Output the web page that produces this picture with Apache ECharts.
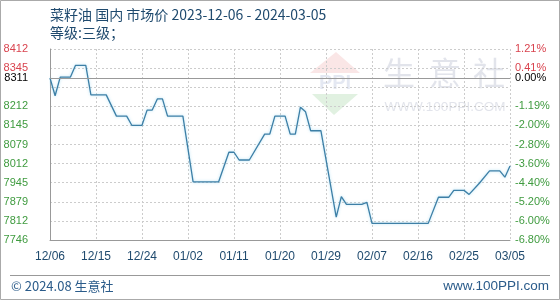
<!DOCTYPE html>
<html><head><meta charset="utf-8">
<script src="https://cdn.jsdelivr.net/npm/echarts@6/dist/echarts.min.js"></script>
<style>html,body{margin:0;padding:0;background:#fff}#c{width:560px;height:300px}</style>
</head><body><div id="c"></div>
<script>
// ---- data ----
const pointDates = ['12/06','12/07','12/08','12/10','12/11','12/13','12/14','12/17','12/19','12/21',
  '12/22','12/24','12/25','12/26','12/27','12/28','12/29','01/01','01/03','01/08',
  '01/10','01/11','01/12','01/14','01/17','01/18','01/19','01/21','01/22','01/23',
  '01/24','01/25','01/26','01/28','01/31','02/01','02/02','02/05','02/06','02/07',
  '02/18','02/20','02/22','02/23','02/25','02/26','02/28','03/01','03/03','03/04','03/05'];
const prices = [8311,8249,8314,8314,8355,8355,8252,8252,8178,8178,
  8146,8146,8199,8199,8238,8238,8178,8178,7949,7949,
  8052,8052,8025,8025,8115,8115,8178,8178,8115,8115,
  8209,8193,8127,8127,7826,7897,7870,7870,7877,7804,
  7804,7895,7895,7919,7919,7905,7944,7987,7987,7965,8004];
const baseValue = 8311;
const yMin = 7746, yMax = 8412;
const gridValues = [7746,7812.6,7879.2,7945.8,8012.4,8079,8145.6,8212.2,8278.8,8345.4,8412];
const labelValues = [7746,7812.6,7879.2,7945.8,8012.4,8079,8145.6,8212.2,8311,8345.4,8412];
const leftLabels = ['7746','7812','7879','7945','8012','8079','8145','8212','8311','8345','8412'];
const rightLabels = ['-6.80%','-6.00%','-5.20%','-4.40%','-3.60%','-2.80%','-2.00%','-1.19%','0.00%','0.41%','1.21%'];
const titleText = '菜籽油 国内 市场价 2023-12-06 - 2024-03-05';
const subText = '等级:三级；';

// ---- category axis (every day) ----
const categories = [];
for (let d = new Date(Date.UTC(2023,11,6)); d <= new Date(Date.UTC(2024,2,5)); d.setUTCDate(d.getUTCDate()+1)) {
  categories.push(String(d.getUTCMonth()+1).padStart(2,'0') + '/' + String(d.getUTCDate()).padStart(2,'0'));
}
const seriesData = pointDates.map((d,i)=>[d, prices[i]]);

function idxOf(v){ return labelValues.findIndex(x=>Math.abs(x-Number(v))<0.01); }
function labelColor(v){
  v = Number(v);
  if (Math.abs(v-baseValue)<0.01) return '#000000';
  return v>baseValue ? '#d9434e' : '#3f9b3f';
}
const FONT = 'Liberation Sans, Arial, sans-serif';
const CJK = '"Noto Sans CJK SC", "Liberation Sans", sans-serif';

const chart = echarts.init(document.getElementById('c'), null, {renderer:'canvas'});
chart.setOption({
  animation:false,
  backgroundColor:'#ffffff',
  grid:{left:50,right:50,top:49,bottom:60,containLabel:false},
  xAxis:{
    type:'category', data:categories, boundaryGap:false,
    axisLine:{show:true,lineStyle:{color:'#999999',width:1}},
    axisTick:{show:false},
    axisLabel:{interval:8,color:'#1f4a6e',fontSize:12,fontFamily:FONT,margin:11},
    splitLine:{show:true,interval:8,lineStyle:{color:'#cccccc',type:[2,2],width:1}}
  },
  yAxis:[{
    type:'value', min:yMin, max:yMax, position:'left',
    axisLine:{show:true,lineStyle:{color:'#999999',width:1}},
    axisTick:{show:false,customValues:gridValues},
    splitLine:{show:true,lineStyle:{color:'#cccccc',type:[2,2],width:1}},
    axisLabel:{customValues:labelValues,margin:22,fontSize:11,fontFamily:FONT,
      formatter:v=>{const i=idxOf(v);return i>=0?leftLabels[i]:'';},
      color:v=>labelColor(v)}
  },{
    type:'value', min:yMin, max:yMax, position:'right',
    axisLine:{show:false}, axisTick:{show:false,customValues:gridValues}, splitLine:{show:false},
    axisLabel:{customValues:labelValues,margin:5,fontSize:11,fontFamily:FONT,
      formatter:v=>{const i=idxOf(v);return i>=0?rightLabels[i]:'';},
      color:v=>labelColor(v)}
  }],
  graphic:[
    {type:'rect',shape:{x:0.5,y:0.5,width:559,height:299},style:{fill:'none',stroke:'#aaaaaa',lineWidth:1},z:-10,silent:true},
    {type:'line',shape:{x1:10,y1:275.5,x2:550,y2:275.5},style:{stroke:'#999999',lineWidth:1}},
    // watermark logo
    {type:'polygon',shape:{points:[[310,73],[336,52],[360,73]]},style:{fill:'rgba(230,140,140,0.22)'},z:-5},
    {type:'text',style:{text:'PPI',x:335,y:83,align:'center',verticalAlign:'middle',font:'bold 20px '+FONT,fill:'rgba(120,140,190,0.20)'},z:-5},
    {type:'polygon',shape:{points:[[312,94],[358,94],[334,115]]},style:{fill:'rgba(120,190,120,0.22)'},z:-5},
    {type:'text',style:{text:'生',x:399,y:73,align:'center',verticalAlign:'middle',font:'32px '+CJK,fill:'rgba(190,196,210,0.45)'},z:-5},
    {type:'text',style:{text:'意',x:445,y:73,align:'center',verticalAlign:'middle',font:'32px '+CJK,fill:'rgba(190,196,210,0.45)'},z:-5},
    {type:'text',style:{text:'社',x:489,y:73,align:'center',verticalAlign:'middle',font:'32px '+CJK,fill:'rgba(190,196,210,0.45)'},z:-5},
    {type:'text',style:{text:'WWW.100PPI.COM',x:445,y:107,align:'center',verticalAlign:'middle',font:'13.5px '+FONT,fill:'rgba(190,196,210,0.45)'},z:-5},
    // titles
    {type:'text',style:{text:titleText,x:50,y:15,verticalAlign:'middle',font:'14px '+CJK,fill:'#1f4a6e'}},
    {type:'text',style:{text:subText,x:50,y:33,verticalAlign:'middle',font:'14px '+CJK,fill:'#1f4a6e'}},
    // footer
    {type:'text',style:{text:'© 2024.08 生意社',x:11,y:286,verticalAlign:'middle',font:'13px '+CJK,fill:'#2a5b8a'}},
    {type:'text',style:{text:'www.100PPI.com',x:549,y:286,align:'right',verticalAlign:'middle',font:'13.5px '+FONT,fill:'#2a5b8a'}}
  ],
  series:[{
    type:'line', data:seriesData, yAxisIndex:0, symbol:'none',
    lineStyle:{color:'#3d7fa6',width:1.3,shadowColor:'rgba(140,210,240,0.7)',shadowBlur:3},
    markLine:{silent:true,symbol:'none',label:{show:false},
      lineStyle:{color:'#999999',type:'solid',width:1.2},
      data:[{yAxis:baseValue}]}
  }]
});
</script></body></html>
